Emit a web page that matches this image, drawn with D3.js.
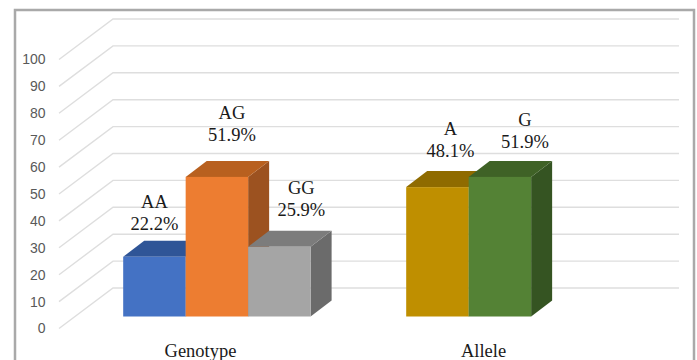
<!DOCTYPE html>
<html>
<head>
<meta charset="utf-8">
<script src="https://cdn.jsdelivr.net/npm/d3@7"></script>
<style>
  html, body { margin: 0; padding: 0; background: #fff; overflow: hidden; }
  svg { display: block; }
</style>
</head>
<body>
<svg id="chart" width="697" height="360"></svg>
<script>
const categories = ['Genotype', 'Allele']
const genotypeNames = ['AA', 'AG', 'GG']
const genotypeValues = [22.2, 51.9, 25.9]
const alleleNames = ['A', 'G']
const alleleValues = [48.1, 51.9]
const yTicks = [0, 10, 20, 30, 40, 50, 60, 70, 80, 90, 100]

const groups = [
  {category: categories[0], names: genotypeNames, values: genotypeValues},
  {category: categories[1], names: alleleNames, values: alleleValues}
]

// front, top, side shades per bar, in reading order
const shades = {
  AA: ['#4472c4', '#2f5597', '#2f5597'],
  AG: ['#ed7d31', '#b8601f', '#9c5220'],
  GG: ['#a5a5a5', '#7c7c7c', '#6b6b6b'],
  A: ['#bf8f00', '#8f6b00', '#8f6b00'],
  G: ['#548235', '#3f6226', '#355422']
}

// label nudges from the top centre of each bar
const labelNudge = {
  AA: [0, -55], AG: [15, -64], GG: [22, -59], A: [13, -59], G: [25, -57]
}

const svg = d3.select('#chart')

// outer chart frame, bottom edge is cropped off
svg.append('path')
  .attr('d', 'M15,362V10H694V362')
  .attr('fill', 'none')
  .attr('stroke', '#a9a9a9')
  .attr('stroke-width', 2.5)

const floorDepth = {dx: 54, dy: -40.5}
const barDepth = {dx: 21, dy: -16}
const barInset = {dx: 16.4, dy: -12}

// y is on the back wall, floor front edge is one depth step away
const y = d3.scaleLinear().domain([0, 100]).range([288, 19])
const xFloor = d3.scaleBand().domain(categories).range([59, 625])
const xBar = d3.scaleBand().domain(categories)
  .range([59 + barInset.dx, 625 + barInset.dx])
const slot = d3.scaleBand().domain([0, 1, 2])
  .range([0, xBar.bandwidth()])
  .paddingInner(0)
  .paddingOuter(0.765)

const grid = svg.append('g')
  .attr('fill', 'none')
  .attr('stroke', '#dedede')
  .attr('stroke-width', 1.4)

grid.selectAll('path')
  .data(yTicks)
  .join('path')
  .attr('d', d => {
    const line = d3.path()
    line.moveTo(xFloor.range()[0], y(d) - floorDepth.dy)
    line.lineTo(xFloor.range()[0] + floorDepth.dx, y(d))
    line.lineTo(xFloor.range()[1] + floorDepth.dx, y(d))
    return line.toString()
  })

svg.append('g')
  .selectAll('text')
  .data(yTicks)
  .join('text')
  .attr('x', 45.5)
  .attr('y', d => y(d) - floorDepth.dy)
  .attr('dy', '0.35em')
  .attr('text-anchor', 'end')
  .attr('font-family', '"Liberation Sans", sans-serif')
  .attr('font-size', 14)
  .attr('fill', '#595959')
  .text(d => d)

const base = y(0) - floorDepth.dy + barInset.dy
const unit = y(0) - y(1)

const polygon = points => 'M' + points.map(p => p.join(',')).join('L') + 'Z'

function drawBar (group, name, value, i) {
  const x0 = xBar(group.category) + slot(i)
  const x1 = x0 + slot.bandwidth()
  const top = base - value * unit
  const g = svg.append('g')

  g.append('path')
    .attr('d', polygon([[x1, top], [x1 + barDepth.dx, top + barDepth.dy],
      [x1 + barDepth.dx, base + barDepth.dy], [x1, base]]))
    .attr('fill', shades[name][2])
  g.append('path')
    .attr('d', polygon([[x0, top], [x0 + barDepth.dx, top + barDepth.dy],
      [x1 + barDepth.dx, top + barDepth.dy], [x1, top]]))
    .attr('fill', shades[name][1])
  g.append('rect')
    .attr('x', x0)
    .attr('y', top)
    .attr('width', x1 - x0)
    .attr('height', base - top)
    .attr('fill', shades[name][0])
}

groups.forEach(group => {
  group.names.forEach((name, i) => drawBar(group, name, group.values[i], i))
})

const serif = '"Liberation Serif", "Times New Roman", serif'

// labels go on last so they sit over the gridlines
groups.forEach(group => {
  group.names.forEach((name, i) => {
    const cx = xBar(group.category) + slot(i) + slot.bandwidth() / 2 + labelNudge[name][0]
    const cy = base - group.values[i] * unit + labelNudge[name][1]
    const label = svg.append('text')
      .attr('text-anchor', 'middle')
      .attr('font-family', serif)
      .attr('font-size', 18.5)
      .attr('fill', '#1a1a1a')
    label.append('tspan').attr('x', cx).attr('y', cy).attr('dy', '0.35em').text(name)
    label.append('tspan').attr('x', cx).attr('y', cy + 22).attr('dy', '0.35em').text(group.values[i] + '%')
  })
})

svg.append('g')
  .selectAll('text')
  .data(categories)
  .join('text')
  .attr('x', d => xFloor(d) + xFloor.bandwidth() / 2)
  .attr('y', 351)
  .attr('dy', '0.35em')
  .attr('text-anchor', 'middle')
  .attr('font-family', serif)
  .attr('font-size', 18.5)
  .attr('fill', '#1a1a1a')
  .text(d => d)
</script>
</body>
</html>
